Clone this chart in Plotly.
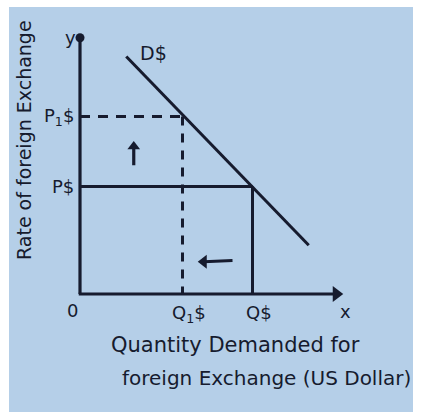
import plotly.graph_objects as go

# Demand for foreign exchange (US Dollar): price and quantity levels
demand_q = [1.85, 9.15]      # quantity demanded along D$
demand_p = [9.5, 1.95]       # exchange rate along D$
q_levels = [4.1, 6.9]        # Q1$, Q$
p_levels = [7.1, 4.3]        # P1$, P$
q_labels = ["Q<sub>1</sub>$", "Q$"]
p_labels = ["P<sub>1</sub>$", "P$"]
axis_ends = [10.5, 10.25]    # x-axis arrow tip, y-axis top

ink = "#161b2e"
paper_blue = "#b5cfe8"
font = "DejaVu Sans"
W, H = 422, 412

fig = go.Figure()


def seg(xs, ys, width=3, dash=None):
    fig.add_trace(go.Scatter(x=xs, y=ys, mode="lines",
                             line=dict(color=ink, width=width, dash=dash), hoverinfo="skip"))


def arrow(xs, ys, symbol, width=3, head=12):
    # line with a filled triangular head centred on its last point
    seg(xs, ys, width=width)
    fig.add_trace(go.Scatter(x=[xs[-1]], y=[ys[-1]], mode="markers",
                             marker=dict(symbol=symbol, size=head, color=ink,
                                         line=dict(width=0)),
                             hoverinfo="skip"))


# axes
seg([0, 0], [0, axis_ends[1]], width=3.2)
fig.add_trace(go.Scatter(x=[0], y=[axis_ends[1]], mode="markers",
                         marker=dict(color=ink, size=9), hoverinfo="skip"))
arrow([-0.05, axis_ends[0] - 0.25], [0, 0], "triangle-right", width=3.2, head=14)

# demand curve
seg(demand_q, demand_p)

# P1$ / Q1$ guides (dashed)
seg([0, q_levels[0]], [p_levels[0], p_levels[0]], dash="10px,8px")
seg([q_levels[0], q_levels[0]], [p_levels[0], 0], dash="9px,8px")

# P$ / Q$ guides (solid)
seg([0, q_levels[1]], [p_levels[1], p_levels[1]])
seg([q_levels[1], q_levels[1]], [p_levels[1], 0])

# movement arrows: rate rises, quantity falls
arrow([q_levels[0] / 2 + 0.1, q_levels[0] / 2 + 0.1],
      [p_levels[1] + 0.85, p_levels[0] - 1.2], "triangle-up", width=3.2, head=11)
arrow([q_levels[1] - 0.8, q_levels[0] + 0.85],
      [p_levels[1] * 0.3 + 0.05, p_levels[1] * 0.3], "triangle-left", width=3.2, head=12)

annotations = []
lab = dict(family=font, size=18, color=ink)

for p, t in zip(p_levels, p_labels):
    annotations.append(dict(x=-0.15, y=p, xref="x", yref="y", text=t, showarrow=False,
                            xanchor="right", yanchor="middle", font=lab))
for q, t in zip(q_levels, q_labels):
    annotations.append(dict(x=q + 0.25, y=-0.25, xref="x", yref="y", text=t, showarrow=False,
                            xanchor="center", yanchor="top", font=lab))

annotations.append(dict(x=-0.1, y=axis_ends[1], xref="x", yref="y", text="y", showarrow=False,
                        xanchor="right", yanchor="middle", font=lab))
annotations.append(dict(x=axis_ends[0] + 0.1, y=-0.2, xref="x", yref="y", text="x", showarrow=False,
                        xanchor="center", yanchor="top", font=lab))
annotations.append(dict(x=-0.3, y=-0.15, xref="x", yref="y", text="0", showarrow=False,
                        xanchor="center", yanchor="top", font=lab))
annotations.append(dict(x=demand_q[0] + 0.45, y=demand_p[0] + 0.15, xref="x", yref="y",
                        text="D$", showarrow=False, xanchor="left", yanchor="middle",
                        font=dict(family=font, size=19, color=ink)))

# axis titles, placed in pixels and converted to paper coordinates
titles = [
    ("Rate of foreign Exchange", 24, 140, -90, 19),
    ("Quantity Demanded for", 235, 345, 0, 21),
    ("foreign Exchange (US Dollar)", 266, 378, 0, 20),
]
for text, px, py, angle, size in titles:
    annotations.append(dict(x=px / W, y=1 - py / H, xref="paper", yref="paper", text=text,
                            showarrow=False, textangle=angle, xanchor="center", yanchor="middle",
                            font=dict(family=font, size=size, color=ink)))

fig.update_layout(
    width=W, height=H,
    margin=dict(l=0, r=0, t=0, b=0),
    paper_bgcolor="white",
    plot_bgcolor="rgba(0,0,0,0)",
    showlegend=False,
    xaxis=dict(range=[-3.2, 13.68], visible=False, fixedrange=True),
    yaxis=dict(range=[-4.72, 11.76], visible=False, fixedrange=True),
    annotations=annotations,
    shapes=[dict(type="rect", xref="paper", yref="paper", x0=9 / W, x1=413 / W,
                 y0=0, y1=1 - 7 / H, fillcolor=paper_blue, line=dict(width=0), layer="below")],
)

fig.write_html("out.html")
